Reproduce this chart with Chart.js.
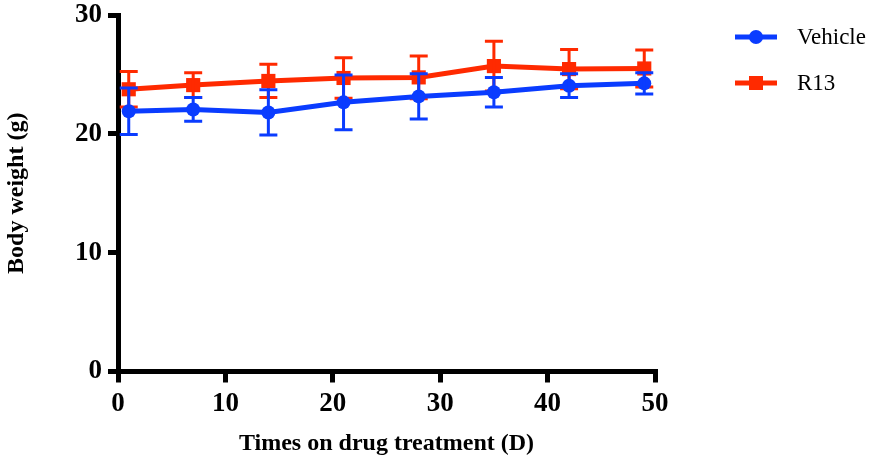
<!DOCTYPE html>
<html>
<head>
<meta charset="utf-8">
<script src="https://cdn.jsdelivr.net/npm/chart.js@4/dist/chart.umd.min.js"></script>
<style>
  html, body { margin: 0; padding: 0; background: #ffffff; }
  #wrap { width: 869px; height: 460px; }
</style>
</head>
<body>
<div id="wrap"><canvas id="c" width="869" height="460"></canvas></div>
<script>
const days = [1, 7, 14, 21, 28, 35, 42, 49];
const vehicleMean = [21.9, 22.05, 21.8, 22.65, 23.15, 23.5, 24.05, 24.25];
const vehicleSD   = [1.95, 1.0, 1.9, 2.3, 1.9, 1.25, 1.0, 0.9];
const r13Mean     = [23.75, 24.1, 24.45, 24.7, 24.75, 25.7, 25.45, 25.5];
const r13SD       = [1.5, 1.05, 1.4, 1.7, 1.8, 2.1, 1.65, 1.55];
const seriesNames = ['Vehicle', 'R13'];
const xTicks = [0, 10, 20, 30, 40, 50];
const yTicks = [0, 10, 20, 30];

const BLUE = '#0A3CFF';
const RED = '#FF2A00';
const FONT = "'Liberation Serif', 'Times New Roman', serif";

const sds = [vehicleSD, r13SD];

const errorBars = {
  id: 'errorBars',
  afterDatasetDraw(chart, args) {
    const i = args.index;
    const meta = args.meta;
    const ds = chart.data.datasets[i];
    const sd = sds[i];
    const ys = chart.scales.y;
    const ctx = chart.ctx;
    ctx.save();
    ctx.strokeStyle = ds.borderColor;
    ctx.lineWidth = 3;
    ctx.lineCap = 'butt';
    meta.data.forEach((pt, k) => {
      const v = ds.data[k].y;
      const x = pt.x;
      const yTop = ys.getPixelForValue(v + sd[k]);
      const yBot = ys.getPixelForValue(v - sd[k]);
      ctx.beginPath();
      ctx.moveTo(x, yTop); ctx.lineTo(x, yBot);
      ctx.moveTo(x - 9, yTop); ctx.lineTo(x + 9, yTop);
      ctx.moveTo(x - 9, yBot); ctx.lineTo(x + 9, yBot);
      ctx.stroke();
    });
    ctx.restore();
  }
};

const customLegend = {
  id: 'customLegend',
  afterDraw(chart) {
    const ctx = chart.ctx;
    const items = [
      { name: seriesNames[0], color: BLUE, shape: 'circle', y: 37 },
      { name: seriesNames[1], color: RED, shape: 'rect', y: 83 }
    ];
    ctx.save();
    items.forEach(it => {
      ctx.strokeStyle = it.color;
      ctx.fillStyle = it.color;
      ctx.lineWidth = 5;
      ctx.beginPath();
      ctx.moveTo(735, it.y); ctx.lineTo(777, it.y);
      ctx.stroke();
      if (it.shape === 'circle') {
        ctx.beginPath();
        ctx.arc(756, it.y, 7, 0, Math.PI * 2);
        ctx.fill();
      } else {
        ctx.fillRect(756 - 7, it.y - 7, 14, 14);
      }
      ctx.fillStyle = '#000';
      ctx.font = "23px " + FONT;
      ctx.textBaseline = 'middle';
      ctx.textAlign = 'left';
      ctx.fillText(it.name, 797, it.y + 1);
    });
    ctx.restore();
  }
};

new Chart(document.getElementById('c'), {
  type: 'line',
  data: {
    datasets: [
      {
        label: seriesNames[0],
        data: days.map((d, k) => ({ x: d, y: vehicleMean[k] })),
        borderColor: BLUE,
        backgroundColor: BLUE,
        borderWidth: 5,
        pointStyle: 'circle',
        pointRadius: 7,
        pointBorderWidth: 0,
        pointBackgroundColor: BLUE,
        tension: 0,
        clip: false
      },
      {
        label: seriesNames[1],
        data: days.map((d, k) => ({ x: d, y: r13Mean[k] })),
        borderColor: RED,
        backgroundColor: RED,
        borderWidth: 5,
        pointStyle: 'rect',
        pointRadius: 10,
        pointBorderWidth: 0,
        pointBackgroundColor: RED,
        tension: 0,
        clip: false
      }
    ]
  },
  options: {
    responsive: false,
    animation: false,
    devicePixelRatio: 1,
    layout: { padding: { left: 0, top: 15, right: 214, bottom: 0 } },
    plugins: { legend: { display: false }, tooltip: { enabled: false } },
    scales: {
      x: {
        type: 'linear',
        min: 0, max: 50,
        afterFit(scale) { scale.height = 88.5; },
        afterBuildTicks(scale) { scale.ticks = xTicks.map(v => ({ value: v })); },
        border: { display: true, color: '#000', width: 5 },
        grid: { display: true, drawOnChartArea: false, drawTicks: true, tickLength: 11, tickWidth: 5, tickColor: '#000', color: '#000', lineWidth: 5 },
        ticks: { color: '#000', padding: 5, maxRotation: 0, font: { family: FONT, size: 27, weight: 'bold' } },
        title: { display: true, text: 'Times on drug treatment (D)', color: '#000', padding: { top: 0, bottom: 2 }, font: { family: FONT, size: 24, weight: 'bold' } }
      },
      y: {
        type: 'linear',
        min: 0, max: 30,
        afterFit(scale) { scale.width = 118; },
        afterBuildTicks(scale) { scale.ticks = yTicks.map(v => ({ value: v })); },
        border: { display: true, color: '#000', width: 5 },
        grid: { display: true, drawOnChartArea: false, drawTicks: true, tickLength: 10, tickWidth: 5, tickColor: '#000', color: '#000', lineWidth: 5 },
        ticks: { color: '#000', padding: 6, font: { family: FONT, size: 27, weight: 'bold', lineHeight: 0.5 } },
        title: { display: true, text: 'Body weight (g)', color: '#000', padding: { top: 2, bottom: 0 }, font: { family: FONT, size: 24, weight: 'bold' } }
      }
    }
  },
  plugins: [errorBars, customLegend]
});
</script>
</body>
</html>
